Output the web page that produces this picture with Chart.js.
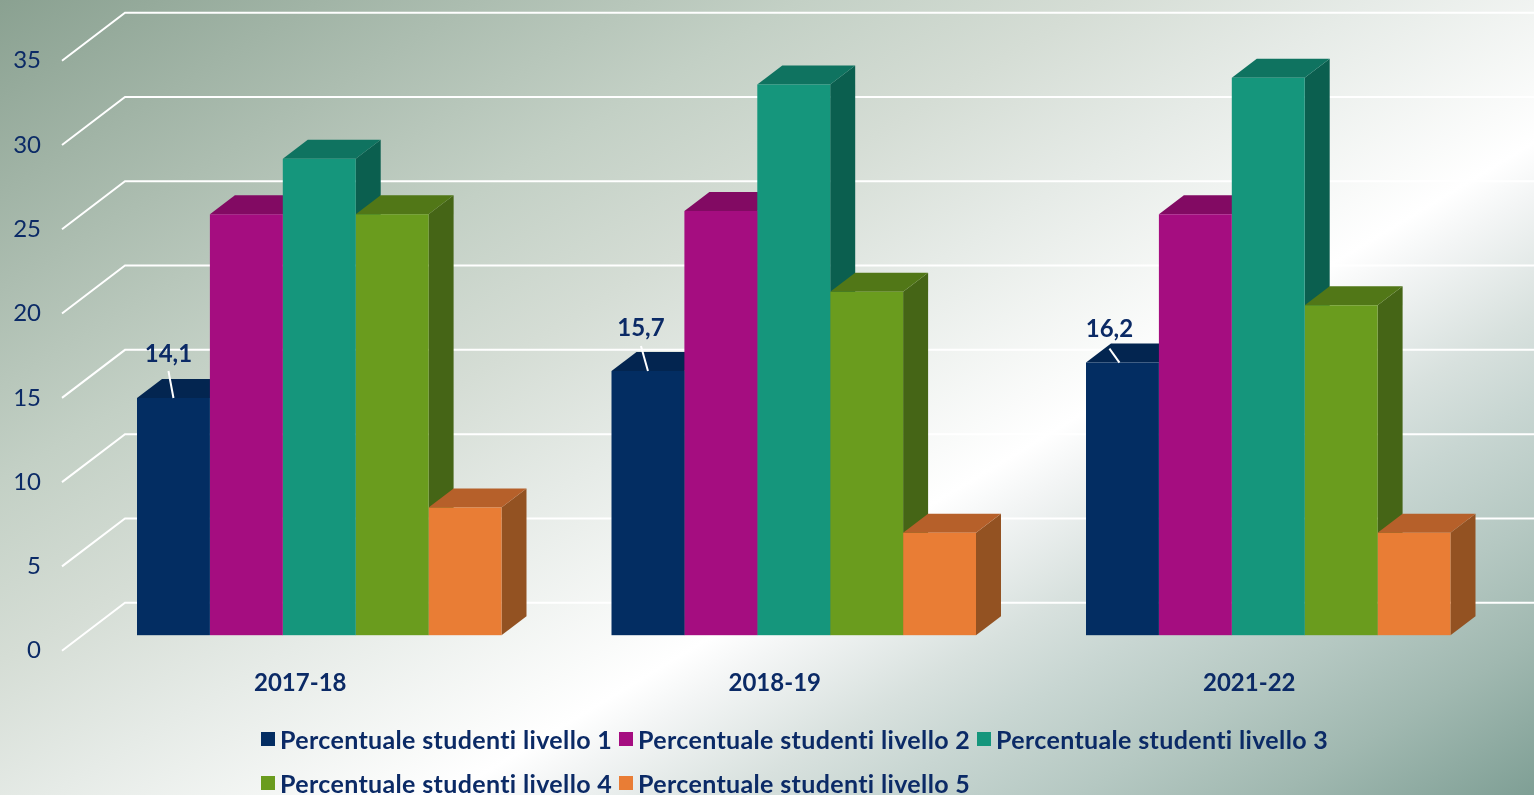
<!DOCTYPE html>
<html>
<head>
<meta charset="utf-8">
<title>Percentuale studenti per livello</title>
<script src="https://cdn.jsdelivr.net/npm/chart.js@4"></script>
<style>
  html, body { margin: 0; height: 100%; overflow: hidden; }
  body {
    width: 1534px;
    height: 795px;
    position: relative;
    background: linear-gradient(149deg, #8aa191 0%, #c3d0c5 28%, #d5ddd5 38.5%, #e6ebe7 48%, #ffffff 62%, #f3f5f5 65%, #d8e1de 72%, #c8d6d2 77%, #b5c8c2 84%, #a0b8b0 91%, #7f9f95 100%);
    font-family: Lato, sans-serif;
  }
  canvas { position: absolute; left: 0; top: 0; }
  #legend {
    position: absolute;
    left: 261px;
    top: 717px;
    display: grid;
    grid-template-columns: 358px 358px 358px;
    grid-auto-rows: 44px;
    color: #0b2a66;
    font-weight: 700;
    font-size: 25px;
    letter-spacing: 0.35px;
    font-variant-ligatures: none;
    white-space: nowrap;
  }
  #legend div { display: flex; align-items: center; height: 44px; }
  #legend i { display: block; width: 14px; height: 14px; margin-right: 5px; }
</style>
</head>
<body>
<canvas id="myChart" width="1534" height="795"></canvas>
<div id="legend"></div>
<script>
const categories = ["2017-18", "2018-19", "2021-22"];
const seriesNames = [
  "Percentuale studenti livello 1",
  "Percentuale studenti livello 2",
  "Percentuale studenti livello 3",
  "Percentuale studenti livello 4",
  "Percentuale studenti livello 5",
];
const livello1 = [14.1, 15.7, 16.2];
const livello2 = [25.0, 25.2, 25.0];
const livello3 = [28.3, 32.7, 33.1];
const livello4 = [25.0, 20.4, 19.6];
const livello5 = [7.6, 6.1, 6.1];
const seriesValues = [livello1, livello2, livello3, livello4, livello5];

const frontColors = ["#032d62", "#a50d80", "#15967c", "#6a9c1e", "#e97d35"];
const topColors = ["#032550", "#820a63", "#0f7360", "#517717", "#b6602a"];
const sideColors = ["#02203f", "#6b0850", "#0b5f4f", "#456516", "#935222"];

const textColor = "#0b2a66";
const depthX = 25;
const depthY = 19;

// label offset and leader line for the level 1 bars, relative to bar top centre
const labelPlacement = [
  { dx: -5, dy: -44, x1: -5, y1: -27, x2: 0 },
  { dx: -7, dy: -43, x1: -7, y1: -25, x2: 0 },
  { dx: -13, dy: -33, x1: -13, y1: -14, x2: -3 },
];

// white walls lines: floor edge, then the back wall
const wallGrid = {
  id: "wallGrid",
  beforeDatasetsDraw(chart) {
    const { ctx, chartArea, scales } = chart;
    ctx.save();
    ctx.strokeStyle = "#ffffff";
    ctx.lineWidth = 2;
    scales.y.ticks.forEach((tick) => {
      const y = scales.y.getPixelForValue(tick.value);
      ctx.beginPath();
      ctx.moveTo(chartArea.left - 20, y + 15);
      ctx.lineTo(chartArea.left + 43, y - 33);
      ctx.lineTo(chart.width, y - 33);
      ctx.stroke();
    });
    ctx.restore();
  },
};

function fillShape(ctx, color, points) {
  ctx.fillStyle = color;
  ctx.beginPath();
  points.forEach((p, i) => (i ? ctx.lineTo(p[0], p[1]) : ctx.moveTo(p[0], p[1])));
  ctx.closePath();
  ctx.fill();
}

// side and top of each bar, the fronts are the real chart bars on top of these
const barDepth = {
  id: "barDepth",
  beforeDatasetsDraw(chart) {
    const { ctx } = chart;
    categories.forEach((c, index) => {
      seriesValues.forEach((values, ds) => {
        const bar = chart.getDatasetMeta(ds).data[index];
        const left = bar.x - bar.width / 2;
        const right = bar.x + bar.width / 2;
        fillShape(ctx, sideColors[ds], [
          [right, bar.y],
          [right + depthX, bar.y - depthY],
          [right + depthX, bar.base - depthY],
          [right, bar.base],
        ]);
        fillShape(ctx, topColors[ds], [
          [left, bar.y],
          [left + depthX, bar.y - depthY],
          [right + depthX, bar.y - depthY],
          [right, bar.y],
        ]);
      });
    });
  },
};

const level1Labels = {
  id: "level1Labels",
  afterDatasetsDraw(chart) {
    const { ctx } = chart;
    ctx.save();
    chart.getDatasetMeta(0).data.forEach((bar, i) => {
      const p = labelPlacement[i];
      ctx.strokeStyle = "#ffffff";
      ctx.lineWidth = 2;
      ctx.beginPath();
      ctx.moveTo(bar.x + p.x1, bar.y + p.y1);
      ctx.lineTo(bar.x + p.x2, bar.y);
      ctx.stroke();
      ctx.fillStyle = textColor;
      ctx.font = "700 24px Lato";
      ctx.textAlign = "center";
      ctx.textBaseline = "middle";
      ctx.fillText(String(livello1[i]).replace(".", ","), bar.x + p.dx, bar.y + p.dy);
    });
    ctx.restore();
  },
};

function myLoadFunction() {
  const ctx = document.getElementById("myChart").getContext("2d");
  const myChart = new Chart(ctx, {
    type: "bar",
    data: {
      labels: categories,
      datasets: seriesNames.map((name, i) => ({
        label: name,
        data: seriesValues[i],
        backgroundColor: frontColors[i],
        barPercentage: 1,
        categoryPercentage: 364.5 / 474.5,
      })),
    },
    options: {
      responsive: false,
      animation: false,
      layout: { padding: { top: 45.7, right: 28.5 } },
      plugins: {
        legend: { display: false },
        tooltip: { enabled: false },
      },
      scales: {
        x: {
          grid: { display: false },
          border: { display: false },
          ticks: {
            color: textColor,
            font: { family: "Lato", size: 24, weight: "700" },
            padding: 25,
            labelOffset: -19,
            maxRotation: 0,
          },
          afterFit(scale) {
            scale.height = 159.3;
          },
        },
        y: {
          min: 0,
          max: 35,
          // tick marks stay invisible, their length pushes the labels left
          // (ticks.padding would also shrink the plot height)
          grid: { drawOnChartArea: false, drawTicks: true, tickLength: 41, tickColor: "transparent" },
          border: { display: false },
          ticks: {
            stepSize: 5,
            color: textColor,
            font: { family: "Lato", size: 24, weight: "400" },
            padding: 0,
            labelOffset: 15,
          },
          afterFit(scale) {
            scale.width = 82;
          },
        },
      },
    },
    plugins: [wallGrid, barDepth, level1Labels],
  });

  document.getElementById("legend").innerHTML = myChart.data.datasets
    .map((d) => `<div><i style="background:${d.backgroundColor}"></i>${d.label}</div>`)
    .join("");
}

document.addEventListener("DOMContentLoaded", myLoadFunction);
</script>
</body>
</html>
